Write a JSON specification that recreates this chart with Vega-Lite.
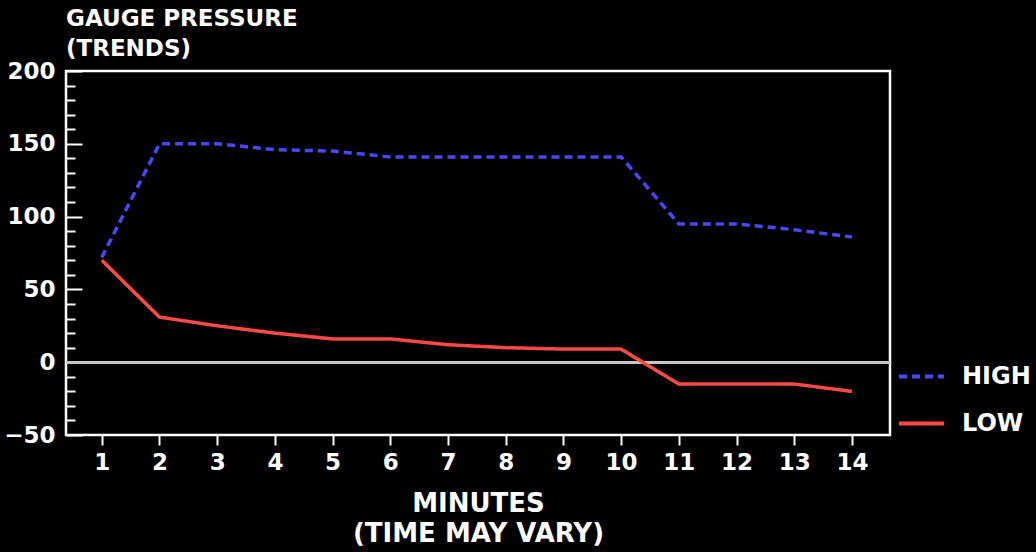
{
  "$schema": "https://vega.github.io/schema/vega-lite/v6.json",
  "autosize": "none",
  "width": 824,
  "height": 364,
  "padding": {"left": 66, "top": 71, "right": 146, "bottom": 117},
  "background": "#000000",
  "title": {
    "text": ["GAUGE PRESSURE", "(TRENDS)"],
    "anchor": "start",
    "frame": "group",
    "font": "DejaVu Sans",
    "fontWeight": "bold",
    "fontSize": 23,
    "color": "#ffffff",
    "lineHeight": 30,
    "offset": -1
  },
  "config": {
    "view": {"stroke": "#ffffff", "strokeWidth": 2.5},
    "axis": {
      "labelFont": "DejaVu Sans",
      "labelFontWeight": "bold",
      "labelColor": "#ffffff",
      "titleFont": "DejaVu Sans",
      "titleFontWeight": "bold",
      "titleColor": "#ffffff",
      "domain": false,
      "grid": false,
      "tickColor": "#ffffff",
      "tickWidth": 2
    },
    "legend": {
      "labelFont": "DejaVu Sans",
      "labelFontWeight": "bold",
      "labelColor": "#ffffff",
      "labelFontSize": 24
    }
  },
  "data": {
    "values": [
      {"minute": 1, "series": "HIGH", "value": 72},
      {"minute": 2, "series": "HIGH", "value": 150},
      {"minute": 3, "series": "HIGH", "value": 150},
      {"minute": 4, "series": "HIGH", "value": 146},
      {"minute": 5, "series": "HIGH", "value": 145},
      {"minute": 6, "series": "HIGH", "value": 141},
      {"minute": 7, "series": "HIGH", "value": 141},
      {"minute": 8, "series": "HIGH", "value": 141},
      {"minute": 9, "series": "HIGH", "value": 141},
      {"minute": 10, "series": "HIGH", "value": 141},
      {"minute": 11, "series": "HIGH", "value": 95},
      {"minute": 12, "series": "HIGH", "value": 95},
      {"minute": 13, "series": "HIGH", "value": 91},
      {"minute": 14, "series": "HIGH", "value": 86},
      {"minute": 1, "series": "LOW", "value": 70},
      {"minute": 2, "series": "LOW", "value": 31},
      {"minute": 3, "series": "LOW", "value": 25},
      {"minute": 4, "series": "LOW", "value": 20},
      {"minute": 5, "series": "LOW", "value": 16},
      {"minute": 6, "series": "LOW", "value": 16},
      {"minute": 7, "series": "LOW", "value": 12},
      {"minute": 8, "series": "LOW", "value": 10},
      {"minute": 9, "series": "LOW", "value": 9},
      {"minute": 10, "series": "LOW", "value": 9},
      {"minute": 11, "series": "LOW", "value": -15},
      {"minute": 12, "series": "LOW", "value": -15},
      {"minute": 13, "series": "LOW", "value": -15},
      {"minute": 14, "series": "LOW", "value": -20}
    ]
  },
  "encoding": {
    "x": {
      "field": "minute",
      "type": "quantitative",
      "scale": {"domain": [0.38, 14.66], "nice": false, "zero": false},
      "axis": {
        "values": [1, 2, 3, 4, 5, 6, 7, 8, 9, 10, 11, 12, 13, 14],
        "title": ["MINUTES", "(TIME MAY VARY)"],
        "titleFontSize": 26,
        "titleLineHeight": 30,
        "titlePadding": 16,
        "labelFontSize": 23,
        "tickSize": 10,
        "labelPadding": 6,
        "labelFlush": false
      }
    },
    "y": {
      "field": "value",
      "type": "quantitative",
      "scale": {"domain": [-50, 200], "nice": false},
      "axis": {
        "values": [-50, -40, -30, -20, -10, 0, 10, 20, 30, 40, 50, 60, 70, 80, 90, 100, 110, 120, 130, 140, 150, 160, 170, 180, 190, 200],
        "labelExpr": "datum.value % 50 === 0 ? datum.label : ''",
        "tickSize": {"condition": {"test": "datum.value % 50 === 0", "value": -16}, "value": -9},
        "labelFontSize": 23,
        "labelPadding": 27,
        "labelFlush": false,
        "title": null
      }
    }
  },
  "layer": [
    {
      "mark": {"type": "rule", "color": "#c8c8c8", "strokeWidth": 2},
      "encoding": {"y": {"datum": 0}, "x": null}
    },
    {
      "mark": {"type": "line", "strokeWidth": 3.5},
      "encoding": {
        "color": {
          "field": "series",
          "type": "nominal",
          "scale": {"domain": ["HIGH", "LOW"], "range": ["#4848f8", "#ff4848"]},
          "legend": {
            "title": null,
            "orient": "none",
            "legendX": 831,
            "legendY": 281,
            "symbolType": "stroke",
            "symbolSize": 2025,
            "symbolStrokeWidth": 4,
            "labelOffset": 16,
            "rowPadding": 10
          }
        },
        "strokeDash": {
          "field": "series",
          "type": "nominal",
          "scale": {"domain": ["HIGH", "LOW"], "range": [[8, 5], [1, 0]]},
          "legend": {
            "title": null,
            "orient": "none",
            "legendX": 831,
            "legendY": 281,
            "symbolType": "stroke",
            "symbolSize": 2025,
            "symbolStrokeWidth": 4,
            "labelOffset": 16,
            "rowPadding": 10
          }
        }
      }
    }
  ]
}
